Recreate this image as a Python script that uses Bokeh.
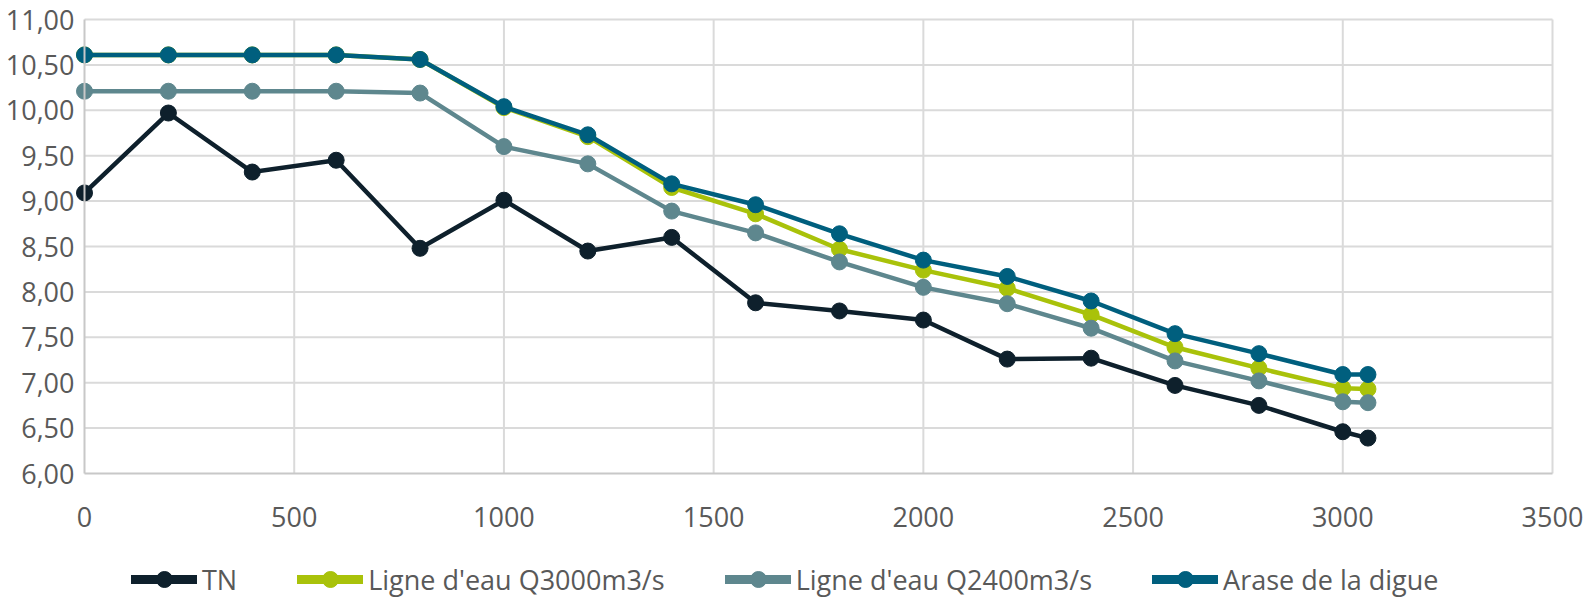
from bokeh.plotting import figure
from bokeh.models import FixedTicker, Legend, LegendItem
from bokeh.embed import file_html
from bokeh.resources import INLINE

# ---- data ----
distance = [0, 200, 400, 600, 800, 1000, 1200, 1400, 1600, 1800, 2000, 2200, 2400, 2600, 2800, 3000, 3060]
tn = [9.09, 9.97, 9.32, 9.45, 8.48, 9.01, 8.45, 8.60, 7.88, 7.79, 7.69, 7.26, 7.27, 6.97, 6.75, 6.46, 6.39]
q3000 = [10.61, 10.61, 10.61, 10.61, 10.56, 10.03, 9.71, 9.15, 8.86, 8.47, 8.24, 8.04, 7.75, 7.39, 7.16, 6.94, 6.93]
q2400 = [10.21, 10.21, 10.21, 10.21, 10.19, 9.60, 9.41, 8.89, 8.65, 8.33, 8.05, 7.87, 7.60, 7.24, 7.02, 6.79, 6.78]
arase = [10.61, 10.61, 10.61, 10.61, 10.56, 10.04, 9.73, 9.19, 8.96, 8.64, 8.35, 8.17, 7.90, 7.54, 7.32, 7.09, 7.09]

series_names = ["TN", "Ligne d'eau Q3000m3/s", "Ligne d'eau Q2400m3/s", "Arase de la digue"]
series_values = [tn, q3000, q2400, arase]
series_colors = ["#0e202c", "#a9c20a", "#5e878e", "#005f7e"]

x_ticks = [0, 500, 1000, 1500, 2000, 2500, 3000, 3500]
x_tick_labels = ["0", "500", "1000", "1500", "2000", "2500", "3000", "3500"]
y_ticks = [6.0, 6.5, 7.0, 7.5, 8.0, 8.5, 9.0, 9.5, 10.0, 10.5, 11.0]
y_tick_labels = ["6,00", "6,50", "7,00", "7,50", "8,00", "8,50", "9,00", "9,50", "10,00", "10,50", "11,00"]

FONT = "Open Sans"
TXT = "#595959"
GRID = "#dadada"

# ---- layout (pixels inside the figure) ----
W, H = 1586, 599
X_LEFT_PX, X_RIGHT_PX = 84, 1552      # where x=first tick and x=last tick sit
Y_TOP_PX, Y_BOTTOM_PX = 19, 473       # where y=last tick and y=first tick sit
x_lo, x_hi = x_ticks[0], x_ticks[-1]
y_lo, y_hi = y_ticks[0], y_ticks[-1]
sx = (X_RIGHT_PX - X_LEFT_PX) / (x_hi - x_lo)
sy = (Y_BOTTOM_PX - Y_TOP_PX) / (y_hi - y_lo)
x_range = (x_lo - X_LEFT_PX / sx, x_hi + (W - X_RIGHT_PX) / sx)
y_range = (y_lo - (H - Y_BOTTOM_PX) / sy, y_hi + Y_TOP_PX / sy)

p = figure(width=W, height=H, x_range=x_range, y_range=y_range,
           output_backend="svg", toolbar_location=None,
           min_border_left=0, min_border_right=0, min_border_top=0, min_border_bottom=0)
p.outline_line_color = None
p.background_fill_color = "white"
p.xgrid.visible = False
p.ygrid.visible = False

# grid lines limited to the value area
p.segment(x0=x_ticks[1:], y0=[y_lo] * (len(x_ticks) - 1), x1=x_ticks[1:], y1=[y_hi] * (len(x_ticks) - 1),
          line_color=GRID, line_width=2, level="underlay")
p.segment(x0=[x_lo] * (len(y_ticks) - 1), y0=y_ticks[1:], x1=[x_hi] * (len(y_ticks) - 1), y1=y_ticks[1:],
          line_color=GRID, line_width=2, level="underlay")

for ax, ticks, labels in ((p.xaxis[0], x_ticks, x_tick_labels), (p.yaxis[0], y_ticks, y_tick_labels)):
    ax.ticker = FixedTicker(ticks=ticks)
    ax.major_label_overrides = {t: l for t, l in zip(ticks, labels)}
    ax.major_tick_line_color = None
    ax.minor_tick_line_color = None
    ax.major_tick_out = 0
    ax.major_tick_in = 0
    ax.axis_line_color = "#c8c8c8"
    ax.axis_line_width = 2
    ax.major_label_text_font = FONT
    ax.major_label_text_font_size = "27px"
    ax.major_label_text_color = TXT
p.xaxis[0].fixed_location = y_lo
p.xaxis[0].bounds = (x_lo, x_hi)
p.xaxis[0].major_label_standoff = 33
p.yaxis[0].fixed_location = x_lo
p.yaxis[0].bounds = (y_lo, y_hi)
p.yaxis[0].major_label_standoff = 10

nan = float("nan")
items = []
for name, vals, col in zip(series_names, series_values, series_colors):
    p.line(distance, vals, line_color=col, line_width=4.5, line_join="round")
    sc = p.scatter(distance, vals, size=16, fill_color=col, line_color=col)
    swatch = p.line(x=[nan], y=[nan], line_color=col, line_width=9, line_cap="round")
    items.append(LegendItem(label=name, renderers=[swatch, sc]))

legend = Legend(items=items, orientation="horizontal", location=(131, 0),
                glyph_width=66, glyph_height=40, label_standoff=5, spacing=60,
                padding=0, margin=0, border_line_color=None, background_fill_alpha=0,
                label_text_font=FONT, label_text_font_size="27px", label_text_color=TXT)
p.add_layout(legend)

open("out.html", "w").write(file_html(p, INLINE))
